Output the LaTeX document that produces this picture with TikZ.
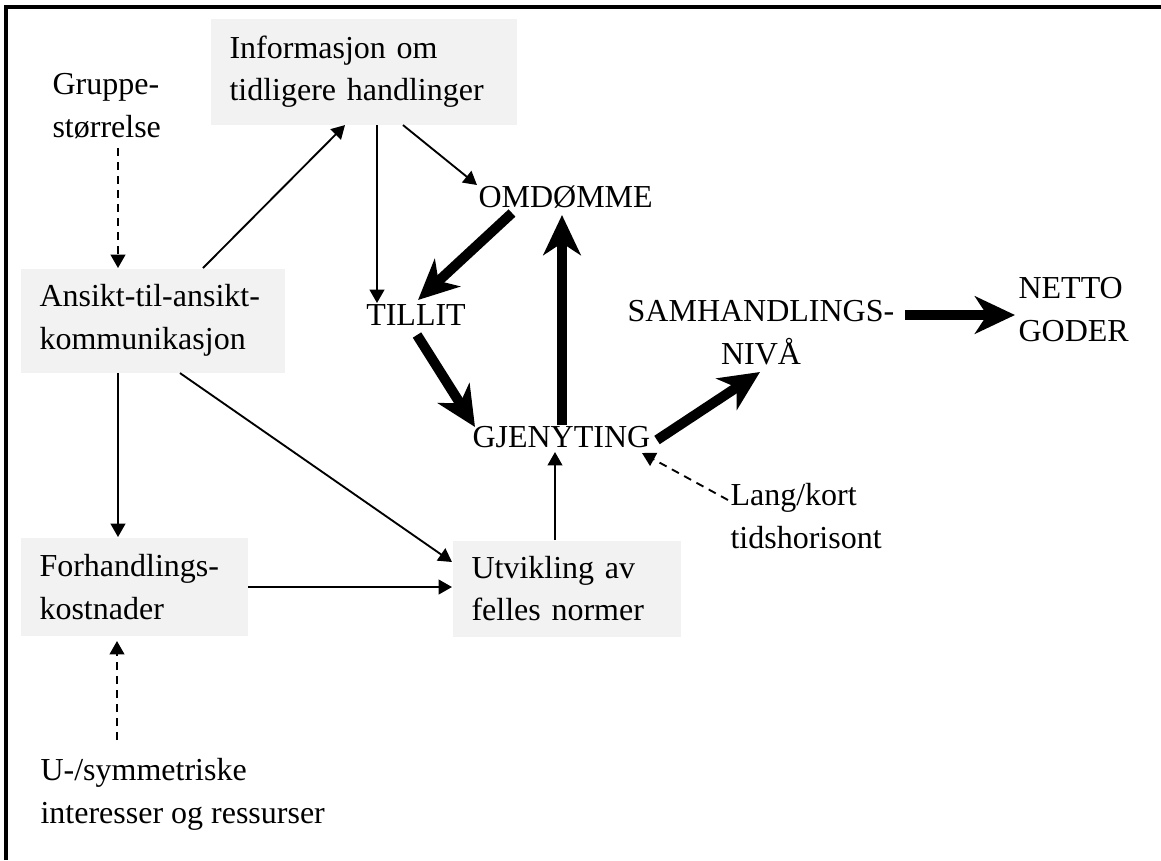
\documentclass[tikz,border=0pt]{standalone}
\usepackage{fontspec}
\setmainfont{Liberation Serif}
\usetikzlibrary{arrows.meta}
\definecolor{boxgray}{HTML}{F2F2F2}

\begin{document}
\begin{tikzpicture}[
    x=0.375pt, y=-0.375pt,
    every node/.style={font=\fontsize{12}{16}\selectfont, inner sep=0pt},
    box/.style={fill=boxgray, anchor=north west, align=left, inner xsep=7.125pt, inner ysep=0pt},
    word/.style={align=left, anchor=north west},
    thinarrow/.style={line width=0.7pt, -{Triangle[length=5pt, width=5.5pt]}},
    dasharrow/.style={thinarrow, dash pattern=on 3pt off 2.25pt},
    bigarrow/.style={line width=3.75pt, -{Stealth[length=15pt, width=14pt, inset=4.5pt]}}
]
  \useasboundingbox (0,0) rectangle (1161,860);

  % --- FRAME ---
  \draw[line width=1.4pt] (6,860) -- (6,7) -- (1161,7);

  % --- BOXES ---
  \node[box, text width=100.5pt, minimum height=39.75pt] (info) at (210,18)
    {Informasjon om\\tidligere handlinger};
  \node[box, text width=85.1pt, minimum height=39pt] (ansikt) at (20,268)
    {Ansikt-til-ansikt-\\kommunikasjon};
  \node[box, text width=70.9pt, minimum height=37.1pt] (forh) at (20,537)
    {Forhandlings-\\kostnader};
  \node[box, text width=71.6pt, minimum height=36pt] (utv) at (452,540)
    {Utvikling av\\felles normer};

  % --- FREE TEXT ---
  \node[word] (gruppe) at (52,73) {Gruppe-\\størrelse};
  \node[word] (usym) at (40,758) {U-/symmetriske\\interesser og ressurser};
  \node[word] (lang) at (730,483) {Lang/kort\\tidshorisont};
  \node[word] (netto) at (1018,277) {NETTO\\GODER};
  \node[align=center, anchor=north] (samh) at (761,300) {SAMHANDLINGS-\\NIVÅ};

  % --- CENTRE LOOP ---
  \node[anchor=base] (tillit) at (416,325) {TILLIT};
  \node[anchor=base west] (omd) at (478,207) {OMDØMME};
  \node[anchor=base west] (gjen) at (472,447) {GJENYTING};

  % --- DRAWING EDGES ---

  % Thin arrows
  \draw[thinarrow] ([shift={(183,0)}]ansikt.north west) -- ([shift={(135,0)}]info.south west);
  \draw[thinarrow] ([shift={(167,0)}]info.south west) -- ([shift={(-39,-22)}]tillit.base);
  \draw[thinarrow] ([shift={(193,0)}]info.south west) -- ([shift={(-1,-22)}]omd.base west);
  \draw[thinarrow] ([shift={(98,0)}]ansikt.south west) -- ([shift={(98,0)}]forh.north west);
  \draw[thinarrow] ([shift={(160,0)}]ansikt.south west) -- ([shift={(0,22)}]utv.north west);
  \draw[thinarrow] (forh.east) -- (forh.east -| utv.west);
  \draw[thinarrow] ([shift={(103,0)}]utv.north west) -- ([shift={(83,5)}]gjen.base west);

  % Dashed arrows
  \draw[dasharrow] ([shift={(66,75)}]gruppe.north west) -- ([shift={(98,0)}]ansikt.north west);
  \draw[dasharrow] ([shift={(77,-18)}]usym.north west) -- ([shift={(97,4)}]forh.south west);
  \draw[dasharrow] ([shift={(-2,17)}]lang.north west) -- ([shift={(170,6)}]gjen.base west);

  % Thick arrows
  \draw[bigarrow] ([shift={(34,6)}]omd.base west) -- ([shift={(2,-25)}]tillit.base);
  \draw[bigarrow] ([shift={(1,10)}]tillit.base) -- ([shift={(3,-20)}]gjen.base west);
  \draw[bigarrow] ([shift={(90,-22)}]gjen.base west) -- ([shift={(84,8)}]omd.base west);
  \draw[bigarrow] ([shift={(185,-7)}]gjen.base west) -- ([shift={(-1,72)}]samh.north);
  \draw[bigarrow] ([shift={(144,15)}]samh.north) -- ([shift={(-3,38)}]netto.north west);
\end{tikzpicture}
\end{document}
